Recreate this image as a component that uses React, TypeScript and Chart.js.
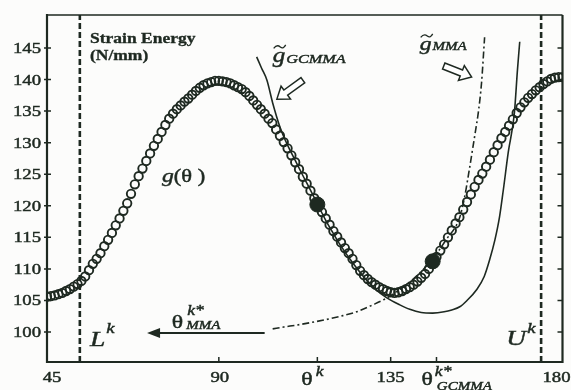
import React, { useEffect, useRef } from "react";
import { Chart, registerables } from "chart.js";

Chart.register(...registerables);

// ---------- data ----------
const THETA_START = 45; // g(θ) sampled once per degree from 45 to 180
const gValues = [
  105.6, 105.7, 105.8, 106.0, 106.2, 106.5, 106.8, 107.2, 107.6, 108.1,
  108.8, 109.8, 110.8, 111.6, 112.5, 113.6, 114.6, 115.7, 116.9, 118.0,
  119.2, 120.4, 121.9, 123.4, 124.7, 125.9, 127.1, 128.3, 129.5, 130.6,
  131.7, 132.8, 133.8, 134.6, 135.3, 135.9, 136.5, 137.0, 137.6, 138.2,
  138.7, 139.1, 139.4, 139.6, 139.8, 139.8, 139.7, 139.6, 139.4, 139.1,
  138.8, 138.5, 138.0, 137.4, 136.7, 136.0, 135.3, 134.6, 133.8, 133.1,
  132.1, 131.1, 130.1, 129.1, 128.0, 126.9, 125.8, 124.6, 123.5, 122.4,
  121.2, 120.1, 119.0, 118.0, 117.0, 116.0, 115.1, 114.2, 113.3, 112.5,
  111.6, 110.6, 109.7, 109.0, 108.4, 107.9, 107.5, 107.1, 106.8, 106.5,
  106.3, 106.2, 106.3, 106.5, 106.8, 107.1, 107.5, 108.0, 108.6, 109.2,
  110.0, 111.0, 111.9, 112.9, 113.9, 115.0, 116.1, 117.2, 118.2, 119.4,
  120.6, 121.8, 123.0, 124.1, 125.1, 126.2, 127.3, 128.5, 129.6, 130.7,
  131.7, 132.7, 133.7, 134.7, 135.6, 136.4, 137.1, 137.7, 138.3, 138.8,
  139.3, 139.7, 140.1, 140.3, 140.4, 140.4,
];

const gcmmaTheta = [
  99.9, 101.2, 102.6, 104.1, 106.0, 108.0, 110.0, 112.0, 114.0, 115.8,
  118.0, 120.0, 122.0, 125.0, 128.0, 131.0, 134.0, 137.4, 140.0, 143.0,
  146.0, 149.0, 151.0, 153.1, 155.0, 157.5, 159.5, 160.9, 162.3, 163.5,
  164.5, 165.8, 167.4, 168.2, 168.8,
];
const gcmmaValues = [
  143.6, 141.8, 139.9, 136.3, 132.5, 129.6, 127.2, 124.8, 122.5, 120.3,
  117.7, 115.6, 113.6, 111.0, 108.7, 106.8, 105.4, 104.3, 103.6, 103.1,
  103.0, 103.2, 103.5, 104.0, 105.0, 106.7, 108.8, 111.4, 114.6, 118.2,
  122.5, 128.5, 134.7, 141.5, 146.0,
];

const mmaTheta = [
  104.1, 107.0, 110.4, 115.0, 119.0, 122.5, 126.1, 130.3, 134.0, 138.0,
  142.0, 146.0, 149.5, 153.1, 154.4, 155.4, 156.2, 157.2, 158.0, 158.8, 159.6,
];
const mmaValues = [
  100.5, 100.8, 101.1, 101.6, 102.1, 102.6, 103.2, 104.3, 105.4, 107.0,
  109.0, 111.6, 114.6, 118.2, 121.5, 125.0, 128.0, 131.8, 135.0, 139.5, 146.7,
];

const dotTheta = [115.8, 146.0]; // θ^k and θ^k*_GCMMA
const dotValues = [120.2, 111.2];
const boundTheta = [53.6, 174.4]; // L^k, U^k

const yTicks = [100, 105, 110, 115, 120, 125, 130, 135, 140, 145];
const xNumTicks = [45, 90, 135, 180];
const xNumLabels = ["45", "90", "135", "180"];
const X_MIN = 45, X_MAX = 180, Y_MIN = 95.25, Y_MAX = 150.23;

// ---------- styles ----------
const SERIF = '"Liberation Serif", "Times New Roman", "DejaVu Serif", serif';
const INK = "#1e2921";
const SX = 1.25; // horizontal stretch of the scanned lettering

function txt(ctx: CanvasRenderingContext2D, s: string, x: number, y: number, font: string, align = "left", heavy = 0.45) {
  ctx.save();
  ctx.font = font;
  ctx.textBaseline = "alphabetic";
  ctx.textAlign = "left";
  const w = ctx.measureText(s).width * SX;
  let x0 = x;
  if (align === "center") x0 = x - w / 2;
  else if (align === "right") x0 = x - w;
  ctx.translate(x0, y);
  ctx.scale(SX, 1);
  ctx.fillStyle = INK;
  ctx.fillText(s, 0, 0);
  if (heavy > 0) {
    ctx.strokeStyle = INK;
    ctx.lineWidth = heavy;
    ctx.strokeText(s, 0, 0);
  }
  ctx.restore();
  return w;
}

function tilde(ctx: CanvasRenderingContext2D, x: number, y: number, w: number) {
  ctx.save();
  ctx.strokeStyle = INK;
  ctx.lineWidth = 1.3;
  ctx.beginPath();
  ctx.moveTo(x, y + 1.5);
  ctx.bezierCurveTo(x + w * 0.25, y - 2.5, x + w * 0.45, y - 1, x + w * 0.55, y);
  ctx.bezierCurveTo(x + w * 0.7, y + 1.5, x + w * 0.85, y + 1.5, x + w, y - 2);
  ctx.stroke();
  ctx.restore();
}

function hollowArrow(ctx: CanvasRenderingContext2D, x1: number, y1: number, x2: number, y2: number) {
  const dx = x2 - x1, dy = y2 - y1;
  const L = Math.hypot(dx, dy);
  const ux = dx / L, uy = dy / L, nx = -uy, ny = ux;
  const sw = 3.2, hw = 8, hl = 11;
  const bx = x2 - ux * hl, by = y2 - uy * hl;
  ctx.save();
  ctx.beginPath();
  ctx.moveTo(x1 + nx * sw, y1 + ny * sw);
  ctx.lineTo(bx + nx * sw, by + ny * sw);
  ctx.lineTo(bx + nx * hw, by + ny * hw);
  ctx.lineTo(x2, y2);
  ctx.lineTo(bx - nx * hw, by - ny * hw);
  ctx.lineTo(bx - nx * sw, by - ny * sw);
  ctx.lineTo(x1 - nx * sw, y1 - ny * sw);
  ctx.closePath();
  ctx.fillStyle = "#ffffff";
  ctx.fill();
  ctx.lineWidth = 1.5;
  ctx.strokeStyle = INK;
  ctx.stroke();
  ctx.restore();
}

const decor = {
  id: "decor",
  beforeDraw(chart: any) {
    const { ctx, width, height } = chart;
    ctx.save();
    ctx.fillStyle = "#fcfcfb";
    ctx.fillRect(0, 0, width, height);
    ctx.restore();
  },
  afterDatasetsDraw(chart: any) {
    const { ctx, chartArea: a } = chart;
    const xs = chart.scales.x, ys = chart.scales.y;
    const X = (v: number) => xs.getPixelForValue(v);
    const Y = (v: number) => ys.getPixelForValue(v);
    ctx.save();
    ctx.strokeStyle = INK;
    ctx.lineCap = "butt";
    // frame
    ctx.lineWidth = 2.2;
    ctx.beginPath();
    ctx.moveTo(a.left, a.top - 1); ctx.lineTo(a.left, a.bottom);
    ctx.lineTo(a.right, a.bottom); ctx.lineTo(a.right, a.top);
    ctx.stroke();
    ctx.lineWidth = 1.3;
    ctx.beginPath();
    ctx.moveTo(a.left, a.top); ctx.lineTo(a.right, a.top);
    ctx.stroke();
    // ticks
    ctx.lineWidth = 1.5;
    yTicks.forEach((v) => {
      const y = Y(v);
      ctx.beginPath();
      ctx.moveTo(a.left - 3, y); ctx.lineTo(a.left + 4, y);
      ctx.moveTo(a.right - 5, y); ctx.lineTo(a.right, y);
      ctx.stroke();
    });
    [90, 135, dotTheta[0], dotTheta[1] + 1].forEach((v) => {
      const x = X(v);
      ctx.beginPath();
      ctx.moveTo(x, a.bottom); ctx.lineTo(x, a.bottom - 5);
      ctx.stroke();
    });
    ctx.restore();

    // y tick labels
    const numFont = `15px ${SERIF}`;
    yTicks.forEach((v) => txt(ctx, String(v), a.left - 6, Y(v) + 5, numFont, "right"));
    // x tick labels
    const bl = a.bottom + 20;
    const shift = [5, 1, 0, -6];
    xNumTicks.forEach((v, i) => txt(ctx, xNumLabels[i], X(v) + shift[i], bl, numFont, "center"));
    // θ^k
    let x0 = X(dotTheta[0]) - 16;
    let w = txt(ctx, "θ", x0, bl + 3, `19px ${SERIF}`);
    txt(ctx, "k", x0 + w + 3, bl - 6, `italic 14px ${SERIF}`);
    // θ^k*_GCMMA
    x0 = X(dotTheta[1] + 1) - 15;
    w = txt(ctx, "θ", x0, bl + 3, `19px ${SERIF}`);
    txt(ctx, "k*", x0 + w + 2, bl - 6, `italic 14px ${SERIF}`);
    txt(ctx, "GCMMA", x0 + w + 4, bl + 8, `italic 12px ${SERIF}`);

    // axis title
    txt(ctx, "Strain Energy", X(56.25), Y(145.79), `bold 14px ${SERIF}`, "left", 0.3);
    txt(ctx, "(N/mm)", X(56.25), Y(143.1), `bold 14px ${SERIF}`, "left", 0.3);

    // g(θ)
    w = txt(ctx, "g", X(75.1), Y(123.8), `italic 19px ${SERIF}`);
    txt(ctx, "(θ )", X(75.1) + w, Y(123.8), `18px ${SERIF}`);

    // g~ GCMMA
    x0 = X(104.1);
    let y0 = Y(142.8);
    w = txt(ctx, "g", x0, y0, `italic 20px ${SERIF}`);
    tilde(ctx, x0 + 1, y0 - 15, 12);
    txt(ctx, "GCMMA", x0 + w + 1, y0 + 1, `italic 13px ${SERIF}`);

    // g~ MMA
    x0 = X(142.6);
    y0 = Y(144.7);
    w = txt(ctx, "g", x0, y0, `italic 19px ${SERIF}`);
    tilde(ctx, x0 + 1, y0 - 14, 12);
    txt(ctx, "MMA", x0 + w + 1, y0, `italic 12px ${SERIF}`);

    // θ*_MMA with arrow
    x0 = X(77.7);
    y0 = Y(100.63);
    w = txt(ctx, "θ", x0, y0, `19px ${SERIF}`);
    txt(ctx, "k*", x0 + w + 4, y0 - 13, `italic 14px ${SERIF}`);
    txt(ctx, "MMA", x0 + w + 3, y0 + 1, `italic 12px ${SERIF}`);
    ctx.save();
    ctx.strokeStyle = INK;
    ctx.fillStyle = INK;
    ctx.lineWidth = 2;
    const ay = Y(99.85), ax1 = X(102.0), ax2 = X(71.2);
    ctx.beginPath();
    ctx.moveTo(ax1, ay); ctx.lineTo(ax2 + 8, ay);
    ctx.stroke();
    ctx.beginPath();
    ctx.moveTo(ax2, ay); ctx.lineTo(ax2 + 13, ay - 5); ctx.lineTo(ax2 + 13, ay + 5);
    ctx.closePath();
    ctx.fill();
    ctx.restore();

    // L^k, U^k
    w = txt(ctx, "L", X(56.25), Y(97.8), `italic 22px ${SERIF}`);
    txt(ctx, "k", X(56.25) + w + 1, Y(99.8), `italic 15px ${SERIF}`);
    w = txt(ctx, "U", X(165.3), Y(97.9), `italic 22px ${SERIF}`);
    txt(ctx, "k", X(165.3) + w + 1, Y(99.8), `italic 15px ${SERIF}`);

    // hollow arrows
    hollowArrow(ctx, X(112.0), Y(139.9), X(105.2), Y(136.9));
    hollowArrow(ctx, X(148.9), Y(142.15), X(156.2), Y(140.4));
  },
};

export default function App() {
  const ref = useRef<HTMLCanvasElement | null>(null);
  useEffect(() => {
    document.body.style.margin = "0";
    const canvas = ref.current;
    if (!canvas) return;
    const gPts = gValues.map((v, i) => ({ x: THETA_START + i, y: v }));
    const gcPts = gcmmaTheta.map((t, i) => ({ x: t, y: gcmmaValues[i] }));
    const mmPts = mmaTheta.map((t, i) => ({ x: t, y: mmaValues[i] }));
    const dots = dotTheta.map((t, i) => ({ x: t, y: dotValues[i] }));
    const bound = (t: number) => [{ x: t, y: Y_MIN }, { x: t, y: Y_MAX }];
    const lineBase = { showLine: true, pointRadius: 0, borderColor: INK, fill: false };
    const chart = new Chart(canvas, {
      type: "scatter",
      data: {
        datasets: [
          { label: "dots", data: dots, pointRadius: 7.5, pointBackgroundColor: INK, pointBorderColor: INK, showLine: false, order: 0 } as any,
          { label: "g", data: gPts, pointRadius: 4.2, pointBorderWidth: 1.9, pointBorderColor: INK, pointBackgroundColor: "rgba(0,0,0,0)", showLine: false, order: 1 },
          { ...lineBase, label: "GCMMA", data: gcPts, borderWidth: 1.6, cubicInterpolationMode: "monotone", order: 2 },
          { ...lineBase, label: "MMA", data: mmPts, borderWidth: 1.6, borderDash: [7, 3, 2, 3], cubicInterpolationMode: "monotone", order: 2 },
          { ...lineBase, label: "L", data: bound(boundTheta[0]), borderWidth: 2.6, borderDash: [6, 3], order: 3 },
          { ...lineBase, label: "U", data: bound(boundTheta[1]), borderWidth: 2.6, borderDash: [6, 3], order: 3 },
        ],
      },
      options: {
        animation: false,
        responsive: false,
        maintainAspectRatio: false,
        events: [],
        layout: { padding: { left: 47, right: 8, top: 15, bottom: 28 } },
        plugins: { legend: { display: false }, tooltip: { enabled: false } },
        scales: {
          x: { type: "linear", min: X_MIN, max: X_MAX, display: false },
          y: { type: "linear", min: Y_MIN, max: Y_MAX, display: false },
        },
      } as any,
      plugins: [decor],
    });
    return () => chart.destroy();
  }, []);
  return (
    <div style={{ position: "absolute", left: 0, top: 0, width: 571, height: 390 }}>
      <canvas ref={ref} width={571} height={390} style={{ display: "block" }} />
    </div>
  );
}
